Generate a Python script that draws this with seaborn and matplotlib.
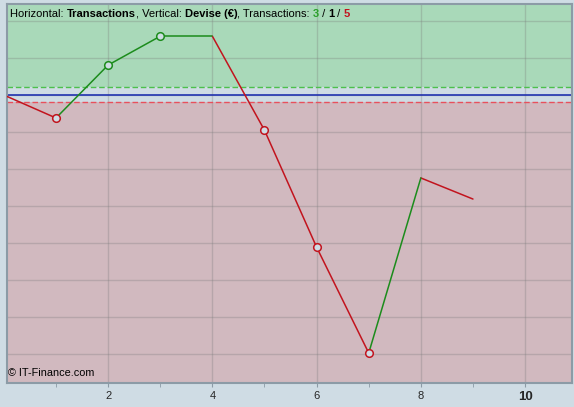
import seaborn as sns
import matplotlib.pyplot as plt
import pandas as pd
import numpy as np

# Data
transactions = [0, 1, 2, 3, 4, 5, 6, 7, 8, 9]
devise = [0, -62, 81, 159, 159, -95, -411, -697, -224, -281]

# Points drawn with an open circle marker
marker_x = [1, 2, 3, 5, 6, 7]
marker_kind = ['loss', 'gain', 'gain', 'loss', 'loss', 'loss']

gain_level = 22
loss_level = -19
x_ticks = [2, 4, 6, 8, 10]
x_minor = [1, 3, 5, 7, 9]

bg = '#cfdce4'
green_zone = '#a9d9b9'
pink_zone = '#d1b9bf'
green = '#1c8c1c'
red = '#c2141e'

# one row per segment end, hue = direction of the segment
rows = []
for i in range(len(transactions) - 1):
    kind = 'gain' if devise[i + 1] >= devise[i] else 'loss'
    for j in (i, i + 1):
        rows.append({'seg': i, 'kind': kind, 'x': transactions[j], 'y': devise[j]})
seg_df = pd.DataFrame(rows)

mk_df = pd.DataFrame({'x': marker_x,
                      'y': [devise[transactions.index(v)] for v in marker_x],
                      'kind': marker_kind})

sns.set_style("white")
plt.rcParams['font.family'] = ['Liberation Sans', 'DejaVu Sans']

fig = plt.figure(figsize=(5.74, 4.07), dpi=100, facecolor=bg)
ax = fig.add_axes([7 / 574, 24 / 407, 565 / 574, 379 / 407])
ax.set_facecolor(bg)

ax.set_xlim(0.06, 10.9)
ax.set_ylim(-778, 246)

# zones
ax.axhspan(gain_level, 246, color=green_zone, zorder=0, lw=0)
ax.axhspan(-778, loss_level, color=pink_zone, zorder=0, lw=0)

# grid
for v in x_ticks:
    ax.axvline(v, color='#7a7a7a', alpha=0.3, lw=1, zorder=1)
for v in np.arange(-700, 246, 100):
    ax.axhline(v, color='#7a7a7a', alpha=0.3, lw=1, zorder=1)

ax.axhline(gain_level, color='#4cc04c', lw=1, ls=(0, (4, 2)), zorder=2)
ax.axhline(loss_level, color='#e8505c', lw=1, ls=(0, (4, 2)), zorder=2)
ax.axhline(0, color='#2233b0', lw=1.2, zorder=2)

sns.lineplot(data=seg_df, x='x', y='y', hue='kind', units='seg', estimator=None,
             palette={'gain': green, 'loss': red}, legend=False, lw=1.1,
             ax=ax, zorder=3)
for kind, col in (('gain', green), ('loss', red)):
    sub = mk_df[mk_df['kind'] == kind]
    ax.scatter(sub['x'], sub['y'], s=30, facecolor=bg, edgecolor=col,
               linewidth=1.1, zorder=4)

ax.set_xlabel('')
ax.set_ylabel('')
ax.set_yticks([])
ax.set_xticks(x_ticks)
ax.set_xticks(x_minor, minor=True)
ax.set_xticklabels([str(t) for t in x_ticks], fontsize=8)
ax.get_xticklabels()[-1].set_fontweight('bold')
ax.get_xticklabels()[-1].set_fontsize(9.5)
ax.tick_params(axis='x', which='both', direction='out', length=3,
               color='#8c9ba6', pad=3, bottom=True)
for s in ax.spines.values():
    s.set_color('#8c9ba6')
    s.set_linewidth(1.5)

# header line, pieces placed one after another on a common baseline
fs = 8
parts = [('Horizontal: ', 'normal', 'black'), ('Transactions', 'bold', 'black'),
         (', Vertical: ', 'normal', 'black'), ('Devise (€)', 'bold', 'black'),
         (', Transactions: ', 'normal', 'black'), ('3', 'bold', '#2aa02a'),
         (' / ', 'normal', 'black'), ('1', 'bold', 'black'),
         (' / ', 'normal', 'black'), ('5', 'bold', red)]
renderer = fig.canvas.get_renderer()
x_px = 10
y_px = 407 - 17
for t, w, c in parts:
    txt = fig.text(x_px / 574, y_px / 407, t, fontsize=fs, fontweight=w,
                   color=c, ha='left', va='baseline')
    x_px = txt.get_window_extent(renderer).x1

ax.text(0.002, 0.012, '© IT-Finance.com', transform=ax.transAxes, fontsize=7.8,
        ha='left', va='bottom', color='black')

plt.savefig('out.png', dpi=100, facecolor=bg)
